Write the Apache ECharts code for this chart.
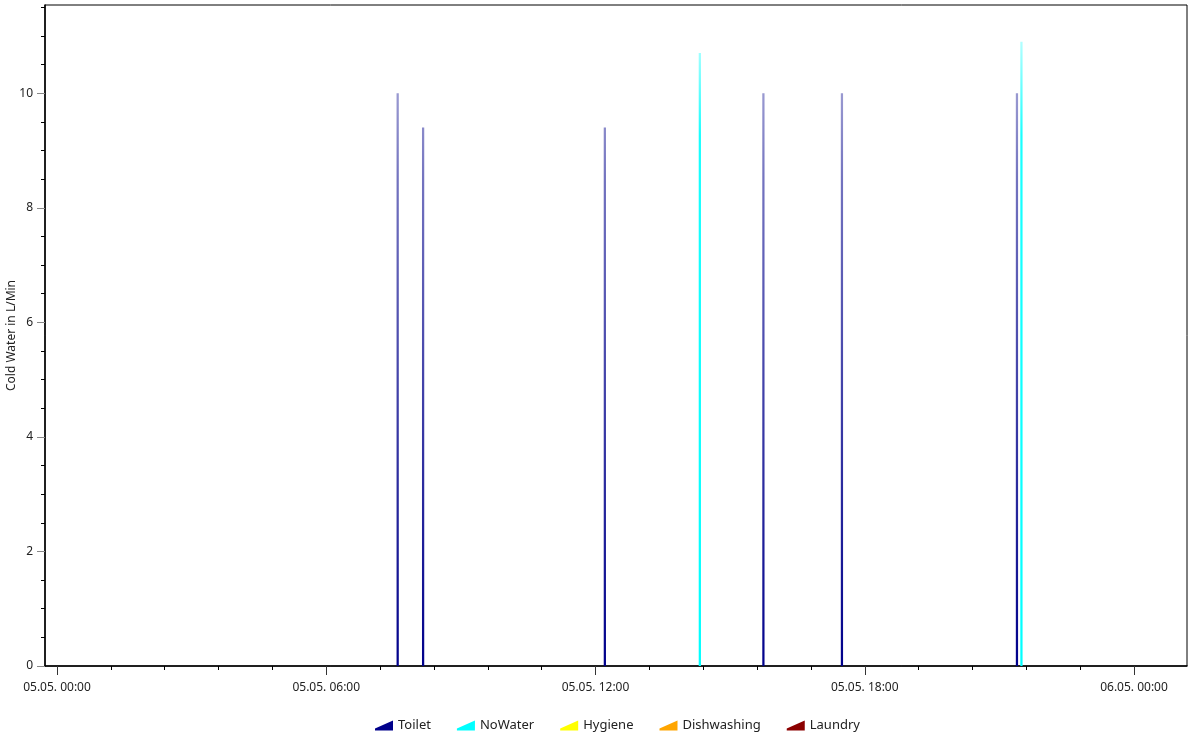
<!DOCTYPE html>
<html>
<head>
<meta charset="utf-8">
<script src="https://cdn.jsdelivr.net/npm/echarts@6/dist/echarts.min.js"></script>
<style>
  html, body { margin: 0; padding: 0; background: #fff; }
  #chart { width: 1189px; height: 733px; }
</style>
</head>
<body>
<div id="chart"></div>
<script>
// ---- data ----
const seriesNames = ['Toilet', 'NoWater', 'Hygiene', 'Dishwashing', 'Laundry'];
const seriesColors = ['#00008B', '#00FFFF', '#FFFF00', '#FFA500', '#8B0000'];

// draw events on 05.05.: start time, duration in minutes, flow in L/Min
const toiletStart = ['07:34', '08:08', '12:11', '15:43', '17:28', '21:22'];
const toiletMinutes = [3, 3, 3, 3, 3, 3];
const toiletFlow = [10, 9.4, 9.4, 10, 10, 10];

const noWaterStart = ['14:18', '21:28'];
const noWaterMinutes = [3, 3];
const noWaterFlow = [10.7, 10.9];

const hygieneStart = [];
const hygieneMinutes = [];
const hygieneFlow = [];

const dishwashingStart = [];
const dishwashingMinutes = [];
const dishwashingFlow = [];

const laundryStart = [];
const laundryMinutes = [];
const laundryFlow = [];

// axis ticks (hours since 05.05. 00:00 / L/Min)
const xMajorTicks = [0, 6, 12, 18, 24];
const xMajorLabels = ['05.05. 00:00', '05.05. 06:00', '05.05. 12:00', '05.05. 18:00', '06.05. 00:00'];
const xMinorTicks = [1.2, 2.4, 3.6, 4.8, 7.2, 8.4, 9.6, 10.8, 13.2, 14.4, 15.6, 16.8, 19.2, 20.4, 21.6, 22.8];
const yMajorTicks = [0, 2, 4, 6, 8, 10];
const yMinorTicks = [0.5, 1, 1.5, 2.5, 3, 3.5, 4.5, 5, 5.5, 6.5, 7, 7.5, 8.5, 9, 9.5, 10.5, 11, 11.5];

const xMin = -0.2674, xMax = 25.181;
const yMin = 0, yMax = 11.54;

// ---- build ----
function toHours(s) {
  const p = s.split(':');
  return Number(p[0]) + Number(p[1]) / 60;
}
function buildSeriesData(starts, minutes, flows) {
  const out = [];
  for (let i = 0; i < starts.length; i++) {
    const s = toHours(starts[i]);
    const e = s + minutes[i] / 60;
    out.push([s, 0], [s, flows[i]], [e, flows[i]], [e, 0]);
  }
  return out;
}
const seriesData = [
  buildSeriesData(toiletStart, toiletMinutes, toiletFlow),
  buildSeriesData(noWaterStart, noWaterMinutes, noWaterFlow),
  buildSeriesData(hygieneStart, hygieneMinutes, hygieneFlow),
  buildSeriesData(dishwashingStart, dishwashingMinutes, dishwashingFlow),
  buildSeriesData(laundryStart, laundryMinutes, laundryFlow)
];

function hexToRgba(hex, a) {
  const n = parseInt(hex.slice(1), 16);
  return 'rgba(' + ((n >> 16) & 255) + ',' + ((n >> 8) & 255) + ',' + (n & 255) + ',' + a + ')';
}

const FONT = 'Noto Sans';
const chart = echarts.init(document.getElementById('chart'), null, { renderer: 'canvas' });

const option = {
  animation: false,
  backgroundColor: '#ffffff',
  textStyle: { fontFamily: FONT },
  grid: {
    left: 45, right: 2, top: 5, bottom: 67,
    containLabel: false, outerBoundsMode: 'none',
    show: true, borderColor: '#000', borderWidth: 1, backgroundColor: 'transparent'
  },
  legend: {
    left: 370, top: 714,
    itemWidth: 18, itemHeight: 10, itemGap: 26,
    selectedMode: false,
    icon: 'path://M0,10 L0,8 Q9,4 18,0 L18,10 Z',
    textStyle: { fontFamily: FONT, fontSize: 13, color: '#222' },
    data: seriesNames
  },
  xAxis: [
    {
      type: 'value', min: xMin, max: xMax, gridIndex: 0, position: 'bottom',
      axisLine: { show: true, onZero: false, lineStyle: { color: '#000', width: 1.5 } },
      axisTick: { show: true, customValues: xMajorTicks, length: 9, lineStyle: { color: '#333', width: 1 } },
      axisLabel: {
        show: true, customValues: xMajorTicks, margin: 16,
        fontFamily: FONT, fontSize: 12, color: '#222',
        formatter: function (v) {
          const i = xMajorTicks.indexOf(v);
          return i >= 0 ? xMajorLabels[i] : '';
        }
      },
      splitLine: { show: false }
    },
    {
      type: 'value', min: xMin, max: xMax, gridIndex: 0, position: 'bottom',
      axisLine: { show: false, onZero: false },
      axisTick: { show: true, customValues: xMinorTicks, length: 4, lineStyle: { color: '#000', width: 1 } },
      axisLabel: { show: false },
      splitLine: { show: false }
    }
  ],
  yAxis: [
    {
      type: 'value', min: yMin, max: yMax, gridIndex: 0, position: 'left',
      name: 'Cold Water in L/Min', nameLocation: 'middle', nameGap: 27,
      nameMoveOverlap: false,
      nameTextStyle: { fontFamily: FONT, fontSize: 12, color: '#222' },
      axisLine: { show: true, onZero: false, lineStyle: { color: '#000', width: 1.5 } },
      axisTick: { show: true, customValues: yMajorTicks, length: 8, lineStyle: { color: '#888', width: 1 } },
      axisLabel: { show: true, customValues: yMajorTicks, margin: 12, fontFamily: FONT, fontSize: 12, color: '#222' },
      splitLine: { show: false }
    },
    {
      type: 'value', min: yMin, max: yMax, gridIndex: 0, position: 'left',
      axisLine: { show: false, onZero: false },
      axisTick: { show: true, customValues: yMinorTicks, length: 4, lineStyle: { color: '#000', width: 1 } },
      axisLabel: { show: false },
      splitLine: { show: false }
    }
  ],
  series: seriesNames.map(function (name, i) {
    return {
      name: name,
      type: 'line',
      xAxisIndex: 0, yAxisIndex: 0,
      data: seriesData[i],
      showSymbol: false,
      symbol: 'none',
      color: seriesColors[i],
      lineStyle: { width: 0, color: seriesColors[i] },
      areaStyle: {
        opacity: 1,
        color: new echarts.graphic.LinearGradient(0, 0, 0, 1, [
          { offset: 0, color: hexToRgba(seriesColors[i], i === 1 ? 0.3 : 0.4) },
          { offset: 0.15, color: hexToRgba(seriesColors[i], i === 1 ? 0.9 : 0.55) },
          { offset: 1, color: hexToRgba(seriesColors[i], 1) }
        ])
      },
      emphasis: { disabled: true },
      z: 2
    };
  })
};
chart.setOption(option);
</script>
</body>
</html>
